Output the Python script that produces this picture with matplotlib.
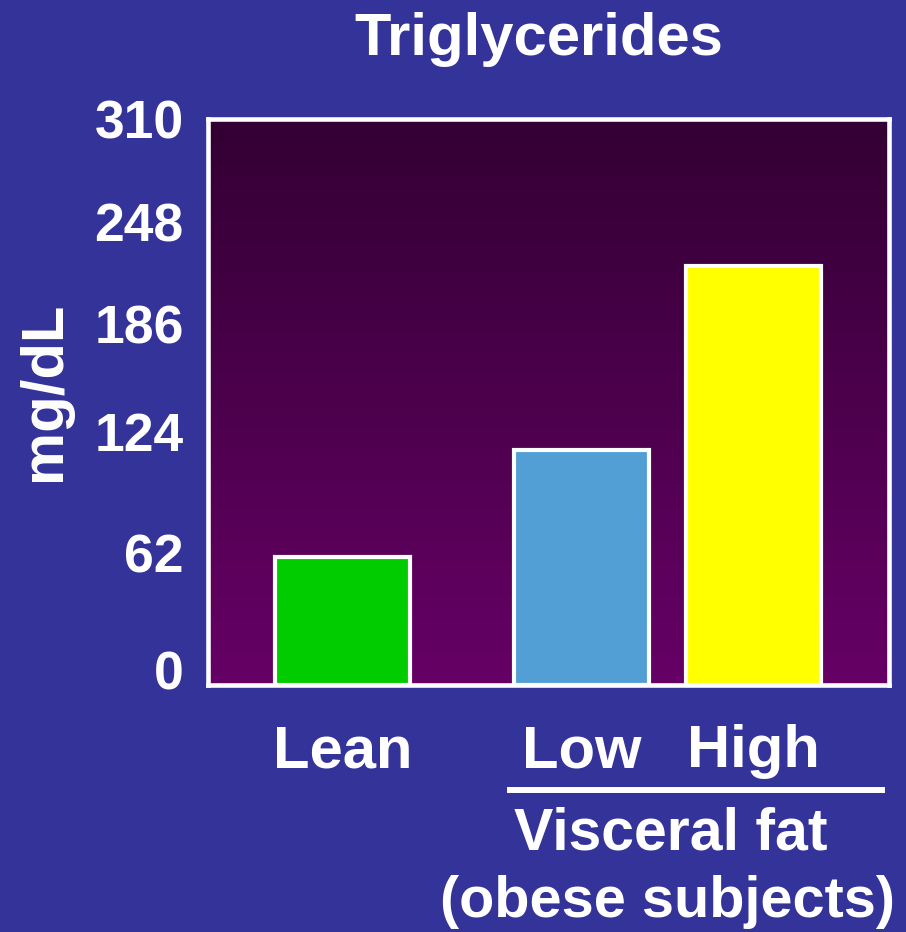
import numpy as np
import matplotlib.pyplot as plt
from matplotlib.colors import LinearSegmentedColormap

plt.rcParams["font.family"] = ["Liberation Sans", "DejaVu Sans"]
plt.rcParams["font.weight"] = "bold"

# data
groups = ["Lean", "Low", "High"]
values = [70, 128.5, 229.5]
bar_colors = ["#00cc00", "#529fd6", "#ffff00"]
ytick_labels = ["0", "62", "124", "186", "248", "310"]
# where the labels sit on the 0-310 frame (the slide's labels are not evenly spaced)
ytick_pos = [8.2, 72.3, 139.1, 197.7, 253.6, 310]

bg = "#333399"
x_pos = [0.1975, 0.5485, 0.801]
bar_w = 0.198
W, H = 906, 932


def fx(px):
    return px / W


def fy(py):
    return 1 - py / H


fig = plt.figure(figsize=(W / 100, H / 100), dpi=100, facecolor=bg)
ax_left, ax_w = 208, 681
ax = fig.add_axes([fx(ax_left), fy(685), ax_w / W, 566 / H])

# purple gradient behind the bars
cmap = LinearSegmentedColormap.from_list("purp", ["#660066", "#330033"])
grad = np.linspace(0, 1, 256).reshape(-1, 1)
ax.imshow(grad, cmap=cmap, aspect="auto", origin="lower",
          extent=[0, 1, 0, 310], zorder=0)

ax.bar(x_pos, values, width=bar_w, color=bar_colors, edgecolor="white",
       linewidth=3, zorder=2)

ax.set_xlim(0, 1)
ax.set_ylim(0, 310)
ax.set_yticks(ytick_pos)
ax.set_yticklabels(ytick_labels, fontsize=38.5, color="white", fontweight="bold")
ax.tick_params(axis="y", length=0, pad=17.5)
ax.set_xticks([])
for s in ax.spines.values():
    s.set_color("white")
    s.set_linewidth(3.3)

fig.text(fx(60), fy(391), "mg/dL", fontsize=43, color="white", fontweight="bold",
         rotation=90, rotation_mode="anchor", ha="center", va="baseline")

fig.text(fx(538.5), fy(55), "Triglycerides", fontsize=43, color="white",
         fontweight="bold", ha="center", va="baseline")

# category labels under the bars
for x, g in zip(x_pos, groups):
    fig.text(fx(ax_left) + x * ax_w / W, fy(767), g, fontsize=43, color="white",
             fontweight="bold", ha="center", va="baseline")

fig.add_artist(plt.Line2D([fx(510), fx(882)], [fy(790), fy(790)],
                          color="white", linewidth=4.3, transform=fig.transFigure))
fig.text(fx(671), fy(850), "Visceral fat", fontsize=42.5, color="white",
         fontweight="bold", ha="center", va="baseline")
fig.text(fx(668), fy(917), "(obese subjects)", fontsize=41.5, color="white",
         fontweight="bold", ha="center", va="baseline")

fig.savefig("out.png", dpi=100, facecolor=bg)
